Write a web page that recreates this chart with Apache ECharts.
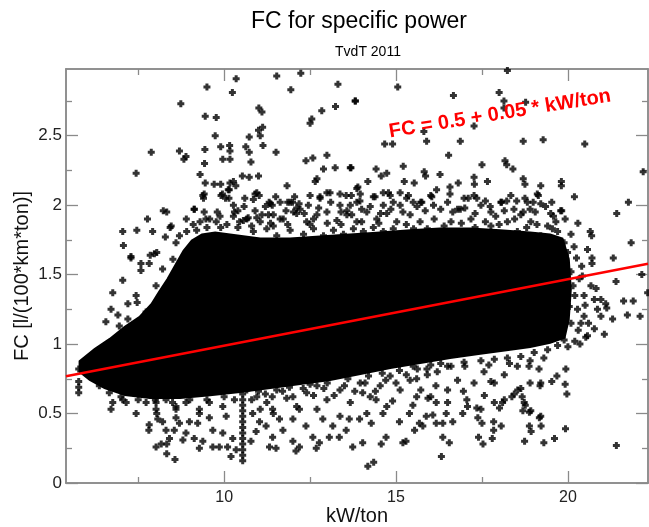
<!DOCTYPE html>
<html><head><meta charset="utf-8">
<script src="https://cdn.jsdelivr.net/npm/echarts@6/dist/echarts.min.js"></script>
<style>html,body{margin:0;padding:0;background:#fff}#c{width:649px;height:527px}</style>
</head><body><div id="c"></div>
<script>
// ---- data ----
const xTickValues = [10, 15, 20];
const xMinorValues = [7.5, 12.5, 17.5];
const yTickValues = [0, 0.5, 1, 1.5, 2, 2.5];
const yMinorValues = [0.25, 0.75, 1.25, 1.75, 2.25, 2.75];

// dense (solid) core of the cloud: upper edge and lower edge
const coreTopX = [5.81,6.24,6.68,7.12,7.55,7.90,8.14,8.37,8.60,8.83,9.07,9.36,9.74,10.17,11.05,11.92,12.79,13.66,14.54,15.41,16.28,17.16,18.03,18.90,19.48,19.83,20.01,20.07,20.01,19.89];
const coreTopY = [0.875,0.962,1.034,1.121,1.193,1.287,1.381,1.468,1.569,1.670,1.742,1.786,1.80,1.786,1.757,1.757,1.771,1.786,1.80,1.815,1.829,1.829,1.815,1.80,1.786,1.757,1.612,1.395,1.178,1.048];
const coreBotX = [5.81,6.10,6.53,7.12,7.84,8.72,9.59,10.46,11.34,12.21,13.08,13.96,14.83,15.70,16.57,17.45,18.32,18.90,19.48,19.89];
const coreBotY = [0.803,0.745,0.687,0.636,0.615,0.615,0.636,0.658,0.687,0.716,0.745,0.788,0.831,0.868,0.904,0.933,0.962,0.983,1.012,1.048];

const upperPoints = [[9.50,2.85],[10.35,2.91],[10.24,2.81],[11.53,2.93],[12.23,2.95],[11.94,2.83],[13.31,2.87],[13.81,2.75],[13.24,2.71],[12.84,2.68],[12.55,2.62],[12.50,2.59],[8.74,2.73],[9.45,2.64],[9.77,2.63],[11.01,2.70],[11.10,2.67],[11.12,2.56],[11.00,2.54],[11.05,2.50],[10.73,2.49],[9.74,2.50],[9.44,2.40],[9.90,2.42],[10.16,2.43],[10.17,2.39],[10.63,2.42],[10.73,2.38],[11.51,2.38],[11.13,2.43],[8.70,2.39],[8.89,2.35],[8.83,2.33],[7.88,2.38],[7.44,2.23],[9.96,2.33],[10.17,2.33],[10.78,2.31],[9.43,2.30],[9.30,2.22],[10.53,2.21],[10.73,2.20],[11.00,2.21],[9.45,2.16],[9.71,2.15],[9.90,2.15],[10.17,2.16],[10.34,2.14],[10.27,2.17],[11.83,2.14],[12.38,2.32],[12.58,2.34],[12.99,2.36],[12.89,2.26],[13.23,2.27],[13.67,2.27],[12.65,2.17],[12.70,2.19],[13.86,2.12],
[15.05,2.85],[18.24,2.97],[13.82,2.75],[16.67,2.79],[18.00,2.81],[18.14,2.75],[18.14,2.70],[18.77,2.74],[17.27,2.57],[15.81,2.53],[15.89,2.46],[16.87,2.46],[14.67,2.44],[14.90,2.44],[18.70,2.46],[19.28,2.47],[20.49,2.44],[16.53,2.36],[17.50,2.29],[18.17,2.32],[18.22,2.29],[18.40,2.26],[15.21,2.28],[14.42,2.26],[14.57,2.21],[14.73,2.23],[13.69,2.27],[15.82,2.24],[15.86,2.21],[16.28,2.22],[17.27,2.20],[17.28,2.15],[17.66,2.17],[18.70,2.19],[18.75,2.15],[19.21,2.14],[19.81,2.17],[19.81,2.14],[22.19,2.24],[16.57,2.13],[16.81,2.16],[15.53,2.16],[15.24,2.17],[14.18,2.17],[13.89,2.13]];

const upperFringe = [[10.12,2.11],[9.95,2.08],[9.42,2.08],[9.40,2.05],[10.04,2.05],[10.14,2.05],[10.27,2.00],[10.58,1.99],[10.85,2.04],[10.95,2.09],[11.02,2.07],[11.31,2.02],[11.63,2.02],[11.85,2.02],[11.99,2.02],[12.18,2.01],[12.50,2.07],[12.79,2.06],[12.99,2.09],[13.08,2.09],[13.37,2.08],[13.55,2.07],[13.86,2.02],[11.40,2.00],[8.33,1.95],[8.23,1.96],[7.77,1.90],[9.13,1.97],[9.42,1.95],[9.80,1.95],[9.88,1.92],[7.05,1.81],[7.46,1.82],[7.92,1.81],[8.43,1.84],[7.07,1.71],[7.29,1.63],[7.85,1.64],[8.04,1.66],[8.91,1.81],[9.10,1.86],[9.30,1.88],[9.58,1.90],[9.77,1.88],[10.08,1.86],[10.27,1.92],[10.56,1.89],[10.70,1.91],[10.95,1.91],[11.10,1.93],[11.29,1.93],[11.43,1.85],[11.63,1.90],[12.02,1.95],[12.11,1.98],[12.33,1.94],[12.60,1.90],[12.99,1.95],[13.37,2.00],[13.57,1.96],[13.71,1.93],
[14.39,2.06],[14.78,2.09],[14.83,2.07],[15.12,2.09],[15.36,2.07],[16.04,2.06],[16.18,2.11],[16.57,2.08],[17.10,2.05],[17.35,2.05],[18.22,2.03],[18.51,2.03],[19.14,2.07],[18.99,2.02],[19.53,2.02],[20.19,2.06],[21.76,2.02],[21.42,1.94],[20.29,1.87],[20.65,1.81],[20.69,1.78],[21.84,1.73],[21.32,1.62],[19.82,1.96],[19.92,1.90],[19.58,1.92],[18.70,1.95],[18.90,1.97],[18.07,2.02],[17.74,1.99],[13.95,2.03],[14.63,2.00],[15.12,2.00],[15.75,2.02],[16.09,2.00],[16.87,1.97],
[8.70,1.78],[8.90,1.90],[9.20,1.82],[9.50,1.84],[9.90,1.84],[10.40,1.84],[10.40,1.96]];

const nearFringe = [[10.90,2.08],[11.34,2.01],[11.92,2.02],[12.21,1.97],[12.79,2.05],[13.67,2.00],[13.96,2.08],[14.34,2.06],[14.63,2.09],[14.92,2.02],[15.31,2.05],[15.61,1.99],
[10.66,1.90],[11.05,1.88],[11.43,1.93],[11.72,1.90],[12.11,1.94],[12.40,1.88],[12.70,1.93],[13.28,1.89],[13.57,1.93],[13.86,1.88],[14.15,1.95],[14.44,1.90],[14.73,1.94],[15.02,1.88],[15.41,1.93],
[10.85,1.81],[11.24,1.83],[11.53,1.78],[11.92,1.82],[12.31,1.79],[12.60,1.83],[12.89,1.78],[13.18,1.82],[13.47,1.79],[13.76,1.83],[14.05,1.81],[14.34,1.84],[14.63,1.81],[14.92,1.83],[15.22,1.79],[15.51,1.83],
[10.66,1.73],[11.14,1.71],[11.63,1.72],[12.21,1.70],[12.70,1.72],
[15.72,2.02],[16.01,2.07],[16.50,2.02],[16.79,1.97],[16.98,2.05],[17.27,2.07],[17.47,2.00],[17.76,1.95],[18.05,2.02],[18.34,2.07],[18.43,1.97],[18.63,1.93],[18.82,2.02],[19.11,2.08],[19.21,2.01],[19.50,1.94],[19.79,1.96],[18.92,1.88],[19.41,1.85],[19.70,1.81],[16.11,1.90],[16.60,1.88],[17.18,1.90],[17.76,1.85],[18.24,1.88],[15.91,1.83],[16.89,1.81],[17.47,1.78],[18.53,1.81],[19.21,1.78],
[5.77,0.82],[6.08,0.88],[6.37,0.94],[6.56,1.16],[6.71,1.25],[6.76,1.37],[7.05,1.46],[6.91,1.21],[7.20,1.29],[7.29,1.62],[7.58,1.58],[7.58,1.53],[7.82,1.58],[7.97,1.65],[8.29,1.77],[8.46,1.85],[7.44,1.35],[7.47,1.30],[7.73,1.23],[7.20,1.18],[6.95,1.13],[8.02,1.42],[8.21,1.54],[8.51,1.61],[8.60,1.73],[9.13,1.97],[9.38,2.07],[9.91,2.07],[10.15,2.11],[9.47,1.90],
[10.30,1.95],[10.60,2.05],[10.90,1.96],[11.20,1.99],[11.50,2.06],[11.80,1.96],[12.05,2.06],[12.45,2.00],[12.75,1.98],[13.10,2.02],[13.40,1.95],[13.70,2.07],[14.00,1.97],[14.25,1.99],[14.55,1.94],[14.85,1.97],[15.20,1.95],[15.50,2.02],[15.85,1.96],[16.30,1.97],[16.65,1.95],[17.00,1.98],[17.30,1.94],[17.60,2.03],[17.90,1.92],[18.15,1.96],[18.45,1.90],[18.75,2.05],[19.05,1.95],[19.35,1.99],[19.65,1.88],
[10.45,1.88],[10.80,1.85],[11.35,1.87],[11.85,1.86],[12.50,1.86],[13.00,1.87],[13.40,1.86],[14.00,1.88],[14.50,1.87],[15.30,1.86],[15.70,1.88],[16.40,1.85],[16.90,1.87],[17.30,1.84],[17.60,1.88],[18.00,1.86],[18.80,1.84],[19.10,1.86],[19.55,1.83]];

const rightPoints = [[20.57,1.68],[20.70,1.62],[20.70,1.58],[22.15,1.50],[22.32,1.37],[21.40,1.45],[21.62,1.31],[21.90,1.31],[21.73,1.21],[22.10,1.20],[20.67,1.42],[20.82,1.40],[20.47,1.35],[20.77,1.32],[20.96,1.32],[21.10,1.29],[21.13,1.26],[20.86,1.25],[20.96,1.20],[21.30,1.18],[21.06,1.07],[20.77,1.11],[20.57,1.06],[20.52,1.05],[20.38,1.15],[20.47,1.20],[20.28,1.25],[20.33,1.47],[20.42,1.49],[20.09,1.52],[20.18,1.70],[20.09,1.79],[19.89,1.56],
[19.89,1.73],[19.99,1.66],[19.94,1.59],[19.99,1.40],[20.04,1.27],[20.09,1.15],[19.89,1.03],[19.70,0.99],[19.41,0.96],[19.02,0.94],[18.63,0.91],[18.24,0.90],[17.86,0.89],[17.47,0.88],[16.98,0.87],[16.50,0.84],[16.01,0.85],[15.62,0.82],
[20.20,1.35],[20.30,1.10],[20.50,1.28],[20.60,1.15],[20.25,1.62],[20.40,1.56],[20.15,1.42],[20.20,1.02],[20.00,0.98],[20.35,1.00]];

const lowerPoints = [[19.94,0.82],[19.92,0.71],[19.97,0.64],[19.68,0.77],[19.53,0.73],[19.21,0.72],[19.16,0.82],[18.90,0.72],[18.63,0.68],[18.44,0.64],[18.87,0.84],[18.53,0.84],[18.15,0.78],[17.86,0.72],[17.56,0.80],[16.96,0.66],[16.50,0.67],[16.16,0.70],[15.91,0.78],[16.79,0.74],[17.27,0.72],[17.76,0.73],[17.86,0.58],[18.15,0.60],[18.73,0.58],[19.21,0.48],[18.92,0.52],[17.47,0.53],[17.08,0.55],[16.50,0.58],[16.01,0.62],[15.72,0.67],
[19.93,0.39],[21.41,0.27],[19.61,0.32],[19.30,0.29],[19.22,0.41],[18.88,0.41],[18.93,0.37],[18.74,0.30],[19.17,0.47],[18.88,0.51],[18.69,0.52],[18.76,0.56],[18.67,0.62],[18.54,0.67],[18.37,0.62],[19.19,0.70],[18.10,0.58],[18.01,0.54],[18.06,0.41],[17.84,0.44],[17.84,0.38],[17.80,0.32],[17.53,0.28],[17.40,0.33],[17.50,0.43],[17.38,0.47],[17.57,0.63],[17.35,0.54],[17.06,0.60],[16.94,0.50],[16.55,0.29],[16.36,0.33],[16.32,0.19],[16.65,0.44],[16.36,0.43],[16.46,0.50],[16.17,0.58],[15.93,0.61],[15.88,0.48],[15.68,0.43],[15.29,0.30],[15.20,0.29],[15.54,0.38],[14.71,0.33],[14.57,0.28],[14.03,0.29],[14.35,0.15],[14.18,0.12],[14.28,0.43],[14.62,0.50],[13.94,0.46],[15.10,0.44],[15.39,0.50],[15.49,0.56],[14.90,0.59],[14.42,0.60],[14.03,0.65],[16.07,0.49],[16.17,0.43],[15.78,0.41],
[5.77,0.73],[5.77,0.69],[5.77,0.65],[6.71,0.53],[7.44,0.50],[7.81,0.38],[7.82,0.42],[8.04,0.50],[8.07,0.46],[8.21,0.44],[8.02,0.26],[8.17,0.28],[8.33,0.28],[8.33,0.21],[8.57,0.17],[8.31,0.38],[8.55,0.38],[8.70,0.43],[8.41,0.32],[8.80,0.31],[8.60,0.47],[8.89,0.36],[8.99,0.44],[9.13,0.32],[9.28,0.25],[9.38,0.30],[9.23,0.43],[9.28,0.50],[9.57,0.47],[9.67,0.38],[9.67,0.26],[9.86,0.26],[9.96,0.36],[10.10,0.26],[10.20,0.19],[10.25,0.32],[10.35,0.24],[10.78,0.30],[10.93,0.37],[11.03,0.44],[11.22,0.41],[11.32,0.26],[11.51,0.25],[11.41,0.33],[11.61,0.46],[11.71,0.38],[12.00,0.30],[12.09,0.23],[12.19,0.26],[12.00,0.46],[12.38,0.41],[12.58,0.33],[12.77,0.29],[12.68,0.25],[12.87,0.46],[13.06,0.33],[13.16,0.41],[13.35,0.33],[13.55,0.38],[13.74,0.26],[13.64,0.46],[12.19,0.53],[11.41,0.53],[10.83,0.50],[10.06,0.48],[8.60,0.53],[8.02,0.58],[7.15,0.58],[6.76,0.58],
[10.66,0.67],[10.95,0.62],[11.24,0.58],[11.53,0.67],[11.82,0.61],[12.11,0.55],[12.40,0.65],[12.70,0.70],[12.99,0.60],[13.37,0.67],[13.67,0.58],[13.96,0.72],[14.25,0.62],[14.54,0.70],[14.83,0.77],[15.12,0.67],[15.41,0.74],[15.60,0.62],[14.73,0.55],[14.15,0.50],[13.37,0.48],[12.70,0.53],[11.43,0.50],[11.05,0.53],
[6.37,0.70],[6.66,0.65],[7.05,0.60],[7.73,0.58],[8.02,0.53],[8.31,0.60],[8.60,0.55],[8.89,0.58],[9.28,0.53],[9.57,0.58],[9.96,0.55],
[10.80,0.60],[11.00,0.66],[11.40,0.62],[11.70,0.66],[12.00,0.62],[12.30,0.68],[12.60,0.63],[12.90,0.68],[13.20,0.63],[13.50,0.70],[13.80,0.66],[14.10,0.72],[14.40,0.66],[14.70,0.74],[15.00,0.72],[15.30,0.78],[15.60,0.75],[15.90,0.82],[16.20,0.80],[16.60,0.84],
[7.00,0.62],[7.50,0.60],[8.00,0.60],[8.50,0.58],[9.00,0.60],[9.50,0.60],[10.00,0.62],[10.30,0.60],
[11.20,0.64],[11.90,0.69],[12.50,0.71],[13.00,0.72],[13.60,0.75],[14.20,0.77],[14.60,0.79],[15.10,0.81],[15.50,0.84],[16.30,0.86],[17.00,0.84],[17.70,0.85],[18.30,0.86],[18.90,0.88],[19.30,0.90]];

const stripePoints = [[10.54,0.68],[10.54,0.64],[10.54,0.60],[10.54,0.56],[10.54,0.52],[10.54,0.48],[10.54,0.44],[10.54,0.40],[10.54,0.36],[10.54,0.32],[10.54,0.28],[10.54,0.24],[10.54,0.20],[10.54,0.16]];

// red reference line (as drawn in the picture)
const fitLine = [[5.4, 0.768], [22.33, 1.578]];
const fitLabel = 'FC = 0.5 + 0.05 * kW/ton';

const X_MIN = 5.4, X_MAX = 22.33, Y_MIN = 0, Y_MAX = 2.98;

// ---- chart ----
const FONT = '"Liberation Sans", Arial, Helvetica, sans-serif';
const AX = '#8a8a8a';
const chart = echarts.init(document.getElementById('c'), null, {renderer: 'canvas'});

function xAx(pos, vals, len, labels, extra) {
  return Object.assign({
    type: 'value', min: X_MIN, max: X_MAX, position: pos,
    axisLine: {show: true, onZero: false, lineStyle: {color: AX, width: 1.5}},
    axisTick: {show: true, inside: true, length: len, customValues: vals, lineStyle: {color: AX, width: 1.3}},
    axisLabel: labels ? {show: true, customValues: vals, fontSize: 16, color: '#222', fontFamily: FONT, margin: 7} : {show: false},
    splitLine: {show: false}
  }, extra || {});
}
function yAx(pos, vals, len, labels, extra) {
  return Object.assign({
    type: 'value', min: Y_MIN, max: Y_MAX, position: pos,
    axisLine: {show: true, onZero: false, lineStyle: {color: AX, width: 1.5}},
    axisTick: {show: true, inside: true, length: len, customValues: vals, lineStyle: {color: AX, width: 1.3}},
    axisLabel: labels ? {show: true, customValues: vals, fontSize: 17, color: '#222', fontFamily: FONT, margin: 4} : {show: false},
    splitLine: {show: false}
  }, extra || {});
}

const plus = 'path://M2,0H5V2H7V5H5V7H2V5H0V2H2Z';
function pts(name, data) {
  return {name, type: 'scatter', data, symbol: plus, symbolSize: 7,
    itemStyle: {color: '#000'}, xAxisIndex: 0, yAxisIndex: 0, silent: true, z: 3};
}

chart.setOption({
  animation: false,
  backgroundColor: '#fff',
  grid: {left: 66, right: 1, top: 69, bottom: 44, containLabel: false, outerBoundsMode: 'none'},
  xAxis: [
    xAx('bottom', xTickValues, 12, true, {name: 'kW/ton', nameLocation: 'middle', nameGap: 23, nameMoveOverlap: false,
      nameTextStyle: {fontSize: 20, color: '#111', fontFamily: FONT}}),
    xAx('bottom', xMinorValues, 6, false),
    xAx('top', xTickValues, 12, false),
    xAx('top', xMinorValues, 6, false)
  ],
  yAxis: [
    yAx('left', yTickValues, 12, true, {name: 'FC [l/(100*km*ton)]', nameLocation: 'middle', nameGap: 34, nameMoveOverlap: false,
      nameTextStyle: {fontSize: 20, color: '#111', fontFamily: FONT}}),
    yAx('left', yMinorValues, 6, false),
    yAx('right', yTickValues, 12, false),
    yAx('right', yMinorValues, 6, false)
  ],
  graphic: [
    {type: 'text', x: 359, y: 22, style: {text: 'FC for specific power', font: '23px ' + FONT, fill: '#000', align: 'center', verticalAlign: 'middle'}},
    {type: 'text', x: 368, y: 52, style: {text: 'TvdT 2011', font: '14px ' + FONT, fill: '#000', align: 'center', verticalAlign: 'middle'}},
    {type: 'text', x: 500, y: 114, rotation: 0.162, z: 100, style: {text: fitLabel, font: 'bold 20px ' + FONT, fill: '#ff0000', align: 'center', verticalAlign: 'middle'}}
  ],
  series: [
    {
      type: 'custom', name: 'core', xAxisIndex: 0, yAxisIndex: 0, silent: true, clip: true, z: 2,
      data: [[coreTopX[0], coreTopY[0]]],
      renderItem: function (params, api) {
        const p = [];
        for (let i = 0; i < coreTopX.length; i++) p.push(api.coord([coreTopX[i], coreTopY[i]]));
        for (let i = coreBotX.length - 1; i >= 0; i--) p.push(api.coord([coreBotX[i], coreBotY[i]]));
        return {type: 'polygon', shape: {points: p}, style: {fill: '#000', stroke: '#000', lineWidth: 3}};
      }
    },
    pts('upper', upperPoints),
    pts('upperFringe', upperFringe),
    pts('nearFringe', nearFringe),
    pts('right', rightPoints),
    pts('lower', lowerPoints),
    pts('stripe', stripePoints),
    {
      type: 'line', name: 'fit', data: fitLine, xAxisIndex: 0, yAxisIndex: 0, symbol: 'none', silent: true,
      lineStyle: {color: '#ff0000', width: 2.5}, z: 10, clip: true
    }
  ]
});
</script>
</body></html>
